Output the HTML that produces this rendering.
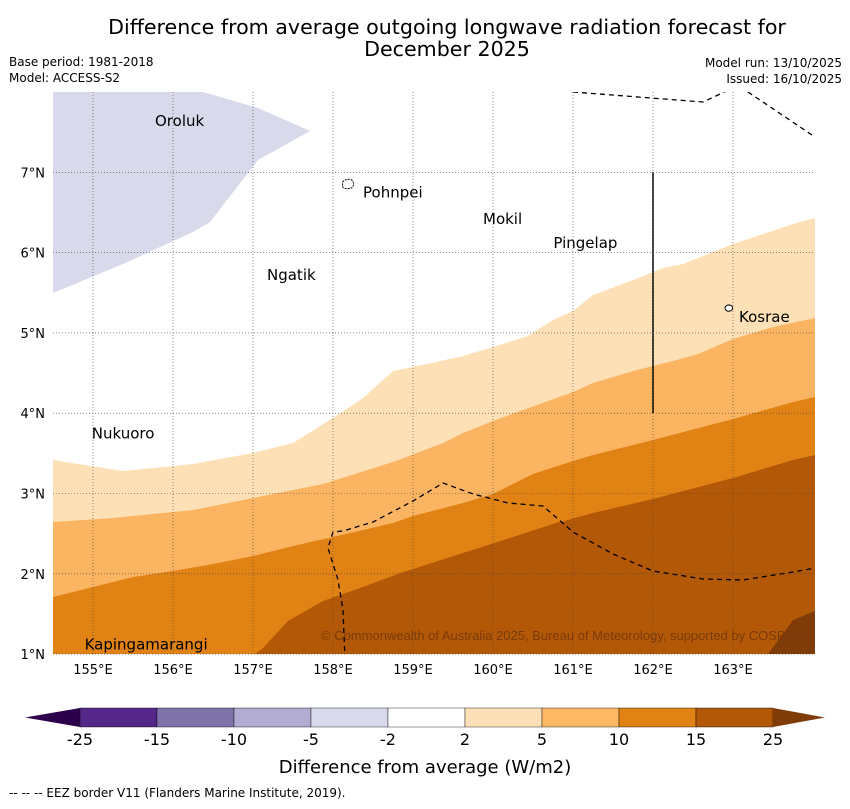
<!DOCTYPE html>
<html><head><meta charset="utf-8"><style>
body{margin:0;background:#fff;font-family:"Liberation Sans","DejaVu Sans",sans-serif;}
svg text{font-family:"DejaVu Sans","Liberation Sans",sans-serif;}
</style></head><body>
<svg id="s" width="850" height="804" viewBox="0 0 850 804" xmlns="http://www.w3.org/2000/svg">
<text x="447" y="34" font-size="20.6" text-anchor="middle">Difference from average outgoing longwave radiation forecast for</text>
<text x="447" y="56" font-size="20.6" text-anchor="middle">December 2025</text>
<text x="9" y="66" font-size="12">Base period: 1981-2018</text>
<text x="9" y="82" font-size="12">Model: ACCESS-S2</text>
<text x="842" y="67" font-size="12" text-anchor="end">Model run: 13/10/2025</text>
<text x="842" y="83" font-size="12" text-anchor="end">Issued: 16/10/2025</text>
<defs><clipPath id="mc"><rect x="53" y="92" width="762" height="562"/></clipPath></defs>
<g id="map" clip-path="url(#mc)"></g>
<g id="grid"></g>
<g id="labels"></g>
<g id="cbar"></g>
<text x="425" y="773" font-size="18" text-anchor="middle">Difference from average (W/m2)</text>
<text x="9" y="797" font-size="12">--  --  -- EEZ border V11 (Flanders Marine Institute, 2019).</text>
<text x="808" y="640" font-size="13" fill="#7a3a08" text-anchor="end" style="font-family:'Liberation Sans',sans-serif">© Commonwealth of Australia 2025, Bureau of Meteorology, supported by COSPPac</text>
</svg>
<script>
const NS="http://www.w3.org/2000/svg";
const LON0=154.5,LAT0=8;
function X(lon){return 53+(lon-LON0)*80;}
function Y(lat){return 92+(LAT0-lat)*80.3;}
function px(x){return LON0+(x-53)/80;}
function py(y){return LAT0-(y-92)/80.3;}
const b2=[[53,460],[123,471],[193,464],[253,453],[293,443],[333,418],[363,398],[393,371],[413,367],[463,356],[493,347],[528,336],[553,320],[573,311],[593,295],[633,280],[663,268],[683,264],[733,244],[793,224],[815,218]].map(p=>[px(p[0]),py(p[1])]);
const b5=[[53,522],[113,518],[193,510],[253,498],[293,490],[323,484],[393,462],[443,443],[463,433],[493,421],[523,410],[573,392],[593,383],[633,371],[673,361],[698,354],[733,339],[773,327],[815,318]].map(p=>[px(p[0]),py(p[1])]);
const b10=[[53,597],[93,587],[133,577],[173,571],[213,564],[253,556],[293,546],[333,537],[393,523],[413,516],[463,503],[493,494],[513,484],[533,474],[573,461],[593,455],[653,440],[733,419],[793,402],[815,397]].map(p=>[px(p[0]),py(p[1])]);
const b15=[[53,660],[255,654],[263,648],[288,621],[323,601],[363,587],[403,572],[413,569],[463,553],[513,537],[553,524],[593,513],[653,499],[733,478],[793,460],[815,455]].map(p=>[px(p[0]),py(p[1])]);
const b25=[[760,660],[768,654],[793,620],[815,611]].map(p=>[px(p[0]),py(p[1])]);
const blue=[[53,92],[203,92],[258,108],[310,131],[258,160],[210,222],[193,232],[123,264],[53,293]].map(p=>[px(p[0]),py(p[1])]);
const eezTop=[[573,92],[703,102],[733,88]].map(p=>[px(p[0]),py(p[1])]);
const eezTop2=[[748,92],[812,135]].map(p=>[px(p[0]),py(p[1])]);
const eezBot=[[345,660],[343,610],[338,580],[328,548],[333,532],[343,531],[373,522],[413,501],[443,483],[473,494],[508,503],[543,506],[573,532],[613,554],[653,571],[703,579],[743,580],[793,572],[815,568]].map(p=>[px(p[0]),py(p[1])]);
const places=[["Oroluk",155.75,7.64],["Pohnpei",158.35,6.75],["Mokil",159.85,6.42],["Pingelap",160.73,6.12],["Ngatik",157.15,5.72],["Kosrae",163.05,5.2],["Nukuoro",154.96,3.75],["Kapingamarangi",154.87,1.12]];
const lonTicks=[155,156,157,158,159,160,161,162,163];
const latTicks=[1,2,3,4,5,6,7];
const levels=["-25","-15","-10","-5","-2","2","5","10","15","25"];
const cbColors=["#542788","#8073ac","#b2abd2","#d8daeb","#ffffff","#fee0b6","#fdb863","#e08214","#b35806"];

function el(t,a,p){const e=document.createElementNS(NS,t);for(const k in a)e.setAttribute(k,a[k]);p.appendChild(e);return e;}
const map=document.getElementById('map');
function pts(a){return a.map(p=>X(p[0]).toFixed(1)+","+Y(p[1]).toFixed(1)).join(" ");}
function bandBelow(line,col,name){
  const a=line.concat([[166,line[line.length-1][1]],[166,0],[150,0],[150,line[0][1]]]);
  const e=el('polygon',{points:pts(a),fill:col},map);
  
  
}
el('rect',{x:53,y:92,width:762,height:562,fill:'#fff'},map);
bandBelow(b2,'#fde0b6','band-2-5');
bandBelow(b5,'#fbb562','band-5-10');
bandBelow(b10,'#e08214','band-10-15');
bandBelow(b15,'#b35806','band-15-25');
bandBelow(b25,'#7f3b08','band-over-25');
let bl=el('polygon',{points:pts(blue),fill:'#d8daeb'},map);


[eezTop,eezTop2,eezBot].forEach(l=>{const e=el('polyline',{points:pts(l),fill:'none',stroke:'#000','stroke-width':1.3,'stroke-dasharray':'5,4'},map);

});
let sl=el('line',{x1:X(162),y1:Y(7),x2:X(162),y2:Y(4),stroke:'#000','stroke-width':1.5},map);


let pi=el('path',{d:`M${X(158.12)},${Y(6.88)} q4,-4 9,-2 q4,4 0,8 q-6,2 -9,-1 z`,fill:'#fff',stroke:'#000','stroke-width':1,'stroke-dasharray':'2,1'},map);


let ki=el('path',{d:`M${X(162.9)},${Y(5.32)} q3,-4 7,-1 q2,4 -3,5 q-4,0 -4,-4 z`,fill:'#fff',stroke:'#000','stroke-width':1},map);


const grid=document.getElementById('grid');
lonTicks.forEach(v=>{const l=el('line',{x1:X(v),y1:92,x2:X(v),y2:654,stroke:'#444','stroke-width':0.6,'stroke-dasharray':'1,2'},grid);


const t=el('text',{x:X(v),y:674,'font-size':13,'text-anchor':'middle'},grid);t.textContent=v+"°E";

});
latTicks.forEach(v=>{const l=el('line',{x1:53,y1:Y(v),x2:815,y2:Y(v),stroke:'#444','stroke-width':0.6,'stroke-dasharray':'1,2'},grid);


const t=el('text',{x:45,y:Y(v)+5,'font-size':13,'text-anchor':'end'},grid);t.textContent=v+"°N";

});
const lab=document.getElementById('labels');
places.forEach(p=>{const t=el('text',{x:X(p[1])+2,y:Y(p[2])+5,'font-size':15},lab);t.textContent=p[0];

});
const cb=document.getElementById('cbar');
const cx0=80,cw=77,cy=708,ch=19;
let lt=el('polygon',{points:`${cx0},${cy} 25,${cy+ch/2} ${cx0},${cy+ch}`,fill:'#2d004b'},cb);


cbColors.forEach((c,i)=>{const e=el('rect',{x:cx0+i*cw,y:cy,width:cw,height:ch,fill:c,stroke:'#000','stroke-width':0.4},cb);

});
const xe=cx0+cbColors.length*cw;
let rt=el('polygon',{points:`${xe},${cy} 825,${cy+ch/2} ${xe},${cy+ch}`,fill:'#7f3b08'},cb);


levels.forEach((v,i)=>{const t=el('text',{x:cx0+i*cw,y:745,'font-size':16,'text-anchor':'middle'},cb);t.textContent=v;

});
</script>
</body></html>
